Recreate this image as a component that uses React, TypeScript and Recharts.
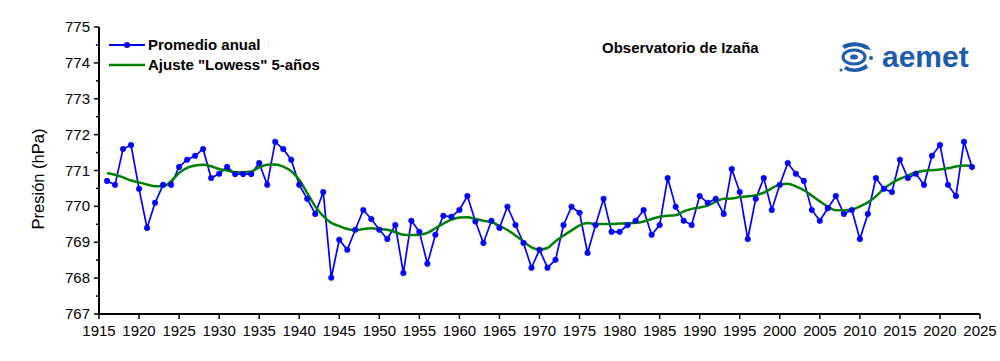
import React from 'react'
import { LineChart, Line, XAxis, YAxis, Legend } from 'recharts'

const years = [
  1916, 1917, 1918, 1919, 1920, 1921, 1922, 1923, 1924, 1925, 1926, 1927, 1928, 1929, 1930,
  1931, 1932, 1933, 1934, 1935, 1936, 1937, 1938, 1939, 1940, 1941, 1942, 1943, 1944, 1945,
  1946, 1947, 1948, 1949, 1950, 1951, 1952, 1953, 1954, 1955, 1956, 1957, 1958, 1959, 1960,
  1961, 1962, 1963, 1964, 1965, 1966, 1967, 1968, 1969, 1970, 1971, 1972, 1973, 1974, 1975,
  1976, 1977, 1978, 1979, 1980, 1981, 1982, 1983, 1984, 1985, 1986, 1987, 1988, 1989, 1990,
  1991, 1992, 1993, 1994, 1995, 1996, 1997, 1998, 1999, 2000, 2001, 2002, 2003, 2004, 2005,
  2006, 2007, 2008, 2009, 2010, 2011, 2012, 2013, 2014, 2015, 2016, 2017, 2018, 2019, 2020,
  2021, 2022, 2023, 2024,
]

// presion media anual (hPa)
const promedioAnual = [
  770.71, 770.6, 771.6, 771.71, 770.49, 769.4, 770.1, 770.6, 770.6, 771.1, 771.3, 771.41, 771.6, 770.79, 770.91,
  771.1, 770.9, 770.9, 770.9, 771.21, 770.6, 771.8, 771.6, 771.3, 770.6, 770.21, 769.79, 770.4, 768.01, 769.07,
  768.79, 769.35, 769.9, 769.65, 769.35, 769.09, 769.48, 768.14, 769.6, 769.29, 768.4, 769.21, 769.74, 769.71, 769.9,
  770.29, 769.58, 768.98, 769.6, 769.4, 769.99, 769.48, 768.98, 768.29, 768.79, 768.29, 768.51, 769.48, 769.99, 769.82,
  768.7, 769.48, 770.21, 769.29, 769.29, 769.48, 769.6, 769.9, 769.21, 769.48, 770.79, 769.99, 769.6, 769.48, 770.29,
  770.1, 770.21, 769.79, 771.04, 770.4, 769.09, 770.21, 770.79, 769.9, 770.6, 771.21, 770.91, 770.71, 769.9, 769.6,
  769.95, 770.29, 769.79, 769.9, 769.09, 769.79, 770.79, 770.49, 770.4, 771.3, 770.79, 770.91, 770.6, 771.41, 771.71,
  770.6, 770.29, 771.8, 771.1,
]

// ajuste lowess 5 años
const lowess = [
  770.93, 770.88, 770.81, 770.72, 770.67, 770.61, 770.56, 770.56, 770.7, 770.93, 771.07, 771.14, 771.16, 771.12, 771.04,
  771.0, 770.95, 770.95, 770.97, 771.09, 771.16, 771.17, 771.11, 770.98, 770.74, 770.37, 770.0, 769.73, 769.54, 769.45,
  769.37, 769.33, 769.37, 769.39, 769.37, 769.35, 769.28, 769.21, 769.2, 769.21, 769.26, 769.39, 769.52, 769.63, 769.69,
  769.7, 769.65, 769.6, 769.56, 769.46, 769.34, 769.19, 769.02, 768.86, 768.8, 768.84, 769.03, 769.19, 769.33, 769.47,
  769.54, 769.51, 769.51, 769.51, 769.52, 769.53, 769.54, 769.58, 769.65, 769.71, 769.74, 769.75, 769.86, 769.93, 769.97,
  770.02, 770.13, 770.21, 770.22, 770.26, 770.28, 770.31, 770.38, 770.5, 770.61, 770.63, 770.56, 770.45, 770.3, 770.14,
  769.99, 769.89, 769.89, 769.91, 770.0, 770.11, 770.28, 770.49, 770.65, 770.77, 770.86, 770.95, 770.99, 771.01, 771.03,
  771.06, 771.11, 771.14, 771.13,
]

const xTicks = [1915, 1920, 1925, 1930, 1935, 1940, 1945, 1950, 1955, 1960, 1965, 1970, 1975, 1980, 1985, 1990, 1995, 2000, 2005, 2010, 2015, 2020, 2025]
const yTicks = [767, 767.5, 768, 768.5, 769, 769.5, 770, 770.5, 771, 771.5, 772, 772.5, 773, 773.5, 774, 774.5, 775]
const yTicksRight = [767, 768, 769, 770, 771, 772, 773, 774, 775]

const data = years.map((year, i) => ({ year, promedio: promedioAnual[i], lowess: lowess[i] }))

const FONT = "Arial, 'Liberation Sans', sans-serif"
const BLUE = '#0000ff'
const GREEN = '#008000'
const LOGO = '#1d5cab'

const BottomTick = ({ x, y, payload }: any) => (
  <g>
    <line x1={x} x2={x} y1={y} y2={y + 5} stroke="#000" strokeWidth={1.5} />
    <text x={x} y={y + 22} textAnchor="middle" fontSize={15} fontFamily={FONT} fill="#000">
      {payload.value}
    </text>
  </g>
)

const TopTick = ({ x, y }: any) => (
  <line x1={x} x2={x} y1={y} y2={y + 6} stroke="#000" strokeWidth={1.5} />
)

const LeftTick = ({ x, y, payload }: any) => {
  const major = Number.isInteger(payload.value)
  return (
    <g>
      <line x1={x - (major ? 5 : 3)} x2={x} y1={y} y2={y} stroke="#000" strokeWidth={1.5} />
      {major && (
        <text x={x - 9} y={y + 5} textAnchor="end" fontSize={15} fontFamily={FONT} fill="#000">
          {payload.value}
        </text>
      )}
    </g>
  )
}

const RightTick = ({ x, y }: any) => (
  <line x1={x - 6} x2={x} y1={y} y2={y} stroke="#000" strokeWidth={1.5} />
)

const YLabel = () => (
  <text
    x={44}
    y={179}
    transform="rotate(-90 44 179)"
    textAnchor="middle"
    fontSize={16.5}
    fontFamily={FONT}
    fill="#000"
  >
    Presión (hPa)
  </text>
)

const LegendBox = () => (
  <div style={{ fontFamily: FONT, fontWeight: 'bold', fontSize: 15, color: '#000', lineHeight: '20px' }}>
    <div style={{ display: 'flex', alignItems: 'center' }}>
      <svg width={40} height={20}>
        <line x1={1} x2={37} y1={10} y2={10} stroke={BLUE} strokeWidth={2} />
        <circle cx={19} cy={10} r={3} fill={BLUE} />
      </svg>
      <span>Promedio anual</span>
    </div>
    <div style={{ display: 'flex', alignItems: 'center' }}>
      <svg width={40} height={20}>
        <line x1={1} x2={37} y1={10} y2={10} stroke={GREEN} strokeWidth={2.5} />
      </svg>
      <span>Ajuste "Lowess" 5-años</span>
    </div>
  </div>
)

const AemetLogo = () => (
  <div style={{ position: 'absolute', left: 838, top: 40, display: 'flex', alignItems: 'center' }}>
    <svg width={36} height={34} viewBox="0 0 36 34">
      <path d="M4 6 C10 1 22 1 30 6 L33 10 L27 9 C20 5 12 6 7 9 Z" fill={LOGO} />
      <ellipse cx={16} cy={17} rx={11} ry={7} fill="none" stroke={LOGO} strokeWidth={3} />
      <ellipse cx={16} cy={17} rx={4} ry={2.5} fill={LOGO} />
      <path d="M8 26 C14 30 22 29 28 24 L30 28 C22 33 12 33 6 29 Z" fill={LOGO} />
      <circle cx={33} cy={18} r={2} fill={LOGO} />
      <circle cx={3} cy={30} r={1.5} fill={LOGO} />
    </svg>
    <span style={{ fontFamily: FONT, fontWeight: 'bold', fontSize: 30, color: LOGO, marginLeft: 8, lineHeight: '30px' }}>
      aemet
    </span>
  </div>
)

export default function App() {
  return (
    <div style={{ position: 'absolute', left: 0, top: 0, width: 1000, height: 361, background: '#fff' }}>
      <LineChart width={1000} height={361} data={data} margin={{ top: 27, right: 20, bottom: 0, left: 0 }}>
        <XAxis
          dataKey="year"
          type="number"
          domain={[1915, 2025]}
          ticks={xTicks}
          interval={0}
          allowDataOverflow
          height={47}
          tickSize={0}
          tickMargin={0}
          tickLine={false}
          axisLine={{ stroke: '#000', strokeWidth: 2 }}
          tick={<BottomTick />}
        />
        <XAxis
          xAxisId="top"
          orientation="top"
          type="number"
          domain={[1915, 2025]}
          ticks={xTicks}
          interval={0}
          allowDataOverflow
          height={0}
          tickSize={0}
          tickMargin={0}
          tickLine={false}
          axisLine={{ stroke: '#000', strokeWidth: 2 }}
          tick={<TopTick />}
        />
        <YAxis
          type="number"
          domain={[767, 775]}
          ticks={yTicks}
          interval={0}
          allowDataOverflow
          width={99}
          tickSize={0}
          tickMargin={0}
          tickLine={false}
          axisLine={{ stroke: '#000', strokeWidth: 2 }}
          tick={<LeftTick />}
          label={<YLabel />}
        />
        <YAxis
          yAxisId="right"
          orientation="right"
          type="number"
          domain={[767, 775]}
          ticks={yTicksRight}
          interval={0}
          allowDataOverflow
          width={0}
          tickSize={0}
          tickMargin={0}
          tickLine={false}
          axisLine={{ stroke: '#000', strokeWidth: 2 }}
          tick={<RightTick />}
        />
        <Legend
          layout="horizontal"
          verticalAlign="middle"
          align="center"
          content={<LegendBox />}
          wrapperStyle={{ position: 'absolute', left: 108, top: 35, width: 260 }}
        />
        <Line
          dataKey="promedio"
          type="linear"
          stroke={BLUE}
          strokeWidth={1.7}
          dot={{ r: 2.8, fill: BLUE, stroke: BLUE, strokeWidth: 0.5 }}
          activeDot={false}
          isAnimationActive={false}
        />
        <Line
          dataKey="lowess"
          type="monotone"
          stroke={GREEN}
          strokeWidth={2.5}
          dot={false}
          activeDot={false}
          isAnimationActive={false}
        />
      </LineChart>
      <div
        style={{
          position: 'absolute',
          left: 602,
          top: 39,
          fontFamily: FONT,
          fontWeight: 'bold',
          fontSize: 15,
          color: '#000',
        }}
      >
        Observatorio de Izaña
      </div>
      <AemetLogo />
    </div>
  )
}
